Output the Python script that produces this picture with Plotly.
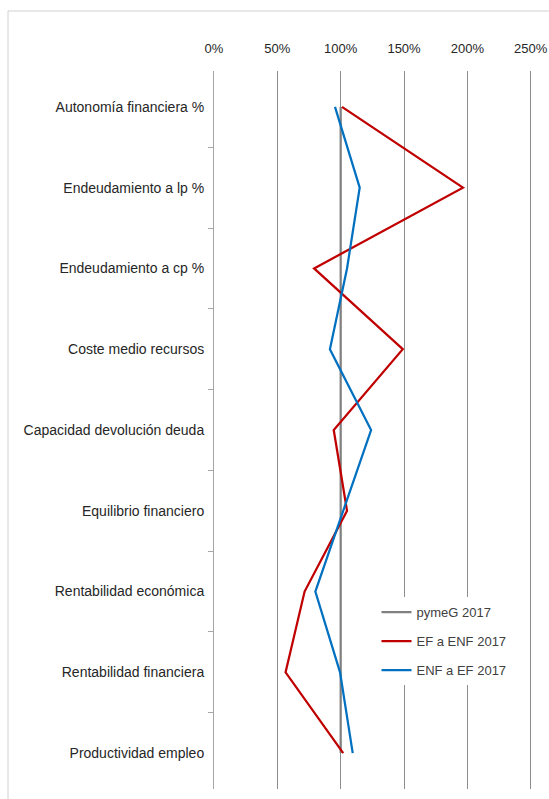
import plotly.graph_objects as go

categories = ["Autonomía financiera %", "Endeudamiento a lp %", "Endeudamiento a cp %",
              "Coste medio recursos", "Capacidad devolución deuda", "Equilibrio financiero",
              "Rentabilidad económica", "Rentabilidad financiera", "Productividad empleo"]
pymeg_2017 = [100, 100, 100, 100, 100, 100, 100, 100, 100]
ef_a_enf_2017 = [101, 196.5, 79, 149, 94.5, 105, 71.5, 56.5, 102]
enf_a_ef_2017 = [95.5, 115, 105, 91.5, 124, 102, 80, 99.5, 109.5]
x_ticks = [0, 50, 100, 150, 200, 250]
x_tick_labels = ["0%", "50%", "100%", "150%", "200%", "250%"]

series = [("pymeG 2017", pymeg_2017, "#808080"),
          ("EF a ENF 2017", ef_a_enf_2017, "#C00000"),
          ("ENF a EF 2017", enf_a_ef_2017, "#0070C0")]

fig = go.Figure()
for name, vals, col in series:
    fig.add_trace(go.Scatter(x=vals, y=categories, mode="lines", name=name,
                             legendgroup=name,
                             line=dict(color=col, width=2.25)))

fig.update_layout(
    template="none",
    width=549, height=799,
    margin=dict(l=214, r=17, t=71, b=10, autoexpand=False),
    paper_bgcolor="white", plot_bgcolor="white",
    font=dict(family="Liberation Sans, Arial, sans-serif", size=14, color="#262626"),
    showlegend=True,
    legend=dict(x=0.511, y=0.267, xanchor="left", yanchor="top",
                bgcolor="white", font=dict(size=13, color="#404040"),
                traceorder="grouped", tracegroupgap=9, itemwidth=30),
    xaxis=dict(side="top", range=[0, 251], tickvals=x_ticks, ticktext=x_tick_labels,
               showgrid=True, gridcolor="#8c8c8c", gridwidth=1, zeroline=False,
               ticks="", ticklabelstandoff=14, showline=False, automargin=False,
               tickfont=dict(size=13, color="#262626")),
    yaxis=dict(categoryorder="array", categoryarray=categories, autorange="reversed",
               showgrid=False, zeroline=False, showline=True, linecolor="#a6a6a6",
               linewidth=1, ticks="outside", tickson="boundaries", ticklen=5,
               tickcolor="#a6a6a6", ticklabelstandoff=6, automargin=False,
               tickfont=dict(size=14, color="#262626")),
    shapes=[dict(type="rect", xref="paper", yref="paper",
                 x0=(8 - 214) / 318, x1=1.2, y0=-0.05, y1=(789 - 11) / 718,
                 line=dict(color="#d0d0d0", width=1), layer="below")],
)

fig.write_html("out.html")
